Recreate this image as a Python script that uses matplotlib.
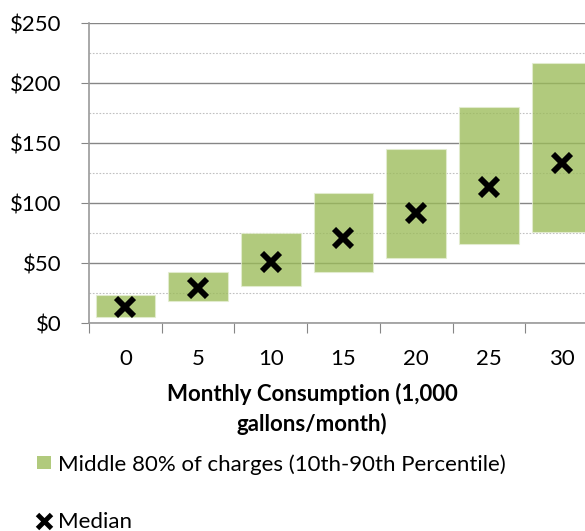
import matplotlib
matplotlib.use("Agg")
import matplotlib.pyplot as plt
from matplotlib.patches import Patch
from matplotlib.lines import Line2D
import numpy as np

plt.rcParams["font.family"] = ["Lato", "DejaVu Sans"]

# --- data ---
consumption = ["0", "5", "10", "15", "20", "25", "30"]
p10 = [5.3, 18.3, 30.8, 42.5, 54.2, 65.6, 75.8]
p90 = [23.6, 42.8, 74.7, 108.6, 145.3, 179.7, 216.7]
median = [13.6, 28.9, 50.6, 70.6, 91.9, 113.6, 133.1]
yticks = [0, 50, 100, 150, 200, 250]

W, H = 585, 531
fig = plt.figure(figsize=(W / 100, H / 100), dpi=100)
# plot area runs past the right edge, as in the reference
ax = fig.add_axes([89 / W, 208 / H, 509 / W, 300 / H])

x = np.arange(len(consumption))
lo = np.array(p10)
hi = np.array(p90)

ax.set_axisbelow(True)
ax.yaxis.grid(True, which="major", color="#868686", lw=1.0, ls="-")
ax.yaxis.grid(True, which="minor", color="#c0c0c0", lw=0.8, ls=(0, (1.5, 1.5)))
ax.set_yticks(np.arange(25, 250, 50), minor=True)

ax.bar(x, hi - lo, bottom=lo, width=0.82, color="#9BBB59", alpha=0.78,
       edgecolor="#e4edd2", lw=0.8, zorder=2)
ax.plot(x, median, ls="none", marker="x", color="black", ms=13, mew=4.2,
        zorder=3)

ax.set_xlim(-0.5, len(x) - 0.5)
ax.set_ylim(0, 250)
ax.set_yticks(yticks)
ax.set_yticklabels([f"${v}" for v in yticks], fontsize=16)
ax.tick_params(axis="y", which="major", length=6, color="#868686", pad=14)
ax.tick_params(axis="y", which="minor", length=0)

# category boundaries carry the tick marks, labels sit in the middle
ax.set_xticks(np.arange(-0.5, len(x), 1.0))
ax.set_xticklabels([])
ax.set_xticks(x, minor=True)
ax.set_xticklabels(consumption, minor=True, fontsize=16)
ax.tick_params(axis="x", which="major", length=7, color="#868686")
ax.tick_params(axis="x", which="minor", length=0, pad=19)

for s in ["top", "right"]:
    ax.spines[s].set_visible(False)
for s in ["left", "bottom"]:
    ax.spines[s].set_color("#9a9a9a")
    ax.spines[s].set_linewidth(1.2)

fig.text(312 / W, 1 - 409 / H, "Monthly Consumption (1,000\ngallons/month)",
         ha="center", va="center", fontsize=16, fontweight="bold",
         linespacing=1.45)

handles = [Patch(facecolor="#9BBB59", alpha=0.78, edgecolor="none"),
           Line2D([], [], ls="none", marker="x", color="black", ms=10, mew=3.5)]
fig.legend(handles, ["Middle 80% of charges (10th-90th Percentile)", "Median"],
           loc="upper left", bbox_to_anchor=(37 / W, 1 - 454 / H),
           frameon=False, fontsize=16, labelspacing=1.67, handlelength=0.63,
           handletextpad=0.3, handleheight=0.5, borderpad=0, borderaxespad=0)

fig.savefig("out.png", dpi=100)
